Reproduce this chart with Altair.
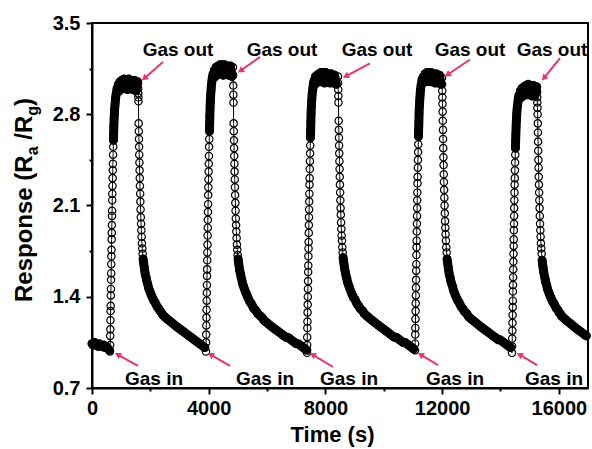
import math
import pandas as pd
import altair as alt

FONT = "Liberation Sans"
PINK = "#E8336D"

# ---------------- axes ----------------
X_MAX = 17000
Y_MIN, Y_MAX = 0.7, 3.5
X_TICKS = [0, 2000, 4000, 6000, 8000, 10000, 12000, 14000, 16000]
Y_TICKS = [0.7, 1.05, 1.4, 1.75, 2.1, 2.45, 2.8, 3.15, 3.5]

# ---------------- data ----------------
T_IN = [617, 3907, 7369, 11071, 14395]      # gas in (s)
T_OUT = [1577, 4833, 8432, 11996, 15252]    # gas out (s)

BASE_T = [0, 40, 80, 120, 160, 200, 240, 280, 320, 360, 400, 440, 480, 520, 560, 600]
BASE_V = [1.04, 1.03, 1.05, 1.03, 1.04, 1.02, 1.04, 1.02, 1.03, 1.02, 1.03, 1.01, 1.02, 1.01, 1.00, 0.99]

RISE_DT = [0, 4, 8, 12, 16, 20, 24, 28, 32, 36, 40, 44, 48, 52, 56, 60, 64, 68, 72, 76,
           80, 85, 90, 95, 100, 106, 112, 118, 125, 132]
RISE_1 = [0.98, 1.03, 1.10, 1.15, 1.22, 1.29, 1.33, 1.41, 1.46, 1.53, 1.58, 1.65, 1.71, 1.76, 1.84,
          1.89, 1.95, 2.02, 2.06, 2.14, 2.19, 2.25, 2.31, 2.37, 2.42, 2.49, 2.55, 2.60, 2.66, 2.71]
RISE_2 = [0.98, 1.05, 1.11, 1.18, 1.24, 1.30, 1.37, 1.43, 1.49, 1.56, 1.61, 1.68, 1.74, 1.80, 1.87,
          1.93, 1.99, 2.05, 2.11, 2.18, 2.24, 2.30, 2.36, 2.42, 2.48, 2.55, 2.61, 2.67, 2.73, 2.79]
RISE_3 = [0.97, 1.03, 1.09, 1.16, 1.21, 1.28, 1.34, 1.40, 1.46, 1.52, 1.59, 1.64, 1.71, 1.77, 1.82,
          1.89, 1.95, 2.01, 2.07, 2.13, 2.19, 2.26, 2.31, 2.38, 2.44, 2.50, 2.56, 2.62, 2.68, 2.74]
RISE_4 = [0.99, 1.04, 1.11, 1.16, 1.23, 1.29, 1.35, 1.41, 1.47, 1.53, 1.60, 1.65, 1.72, 1.78, 1.83,
          1.90, 1.96, 2.02, 2.08, 2.14, 2.20, 2.27, 2.32, 2.39, 2.45, 2.51, 2.57, 2.63, 2.69, 2.74]
RISE_5 = [0.97, 1.02, 1.08, 1.14, 1.20, 1.26, 1.32, 1.37, 1.44, 1.49, 1.55, 1.61, 1.67, 1.73, 1.79,
          1.84, 1.91, 1.96, 2.02, 2.08, 2.14, 2.20, 2.26, 2.31, 2.37, 2.43, 2.49, 2.54, 2.60, 2.65]

PLAT_DT = [140, 150, 162, 175, 190, 206, 224, 244, 266, 290, 316, 344, 374, 406, 440, 476, 514,
           554, 596, 640, 686, 734, 784, 836, 890, 946, 1004]
PLAT_1 = [2.76, 2.80, 2.85, 2.88, 2.92, 2.95, 2.97, 3.00, 2.97, 3.03, 2.98, 3.05, 2.99, 3.06, 3.00,
          3.07, 3.00, 3.06, 2.99, 3.07, 3.00, 3.06, 2.99, 3.06, 2.98, 3.05]
PLAT_2 = [2.85, 2.90, 2.95, 2.99, 3.03, 3.06, 3.09, 3.11, 3.08, 3.14, 3.09, 3.16, 3.10, 3.17, 3.11,
          3.18, 3.11, 3.18, 3.10, 3.18, 3.11, 3.17, 3.10, 3.17, 3.09]
PLAT_3 = [2.81, 2.86, 2.91, 2.95, 2.98, 3.01, 3.04, 3.06, 3.03, 3.09, 3.04, 3.10, 3.05, 3.11, 3.05,
          3.12, 3.05, 3.12, 3.04, 3.12, 3.05, 3.11, 3.04, 3.11, 3.04, 3.10, 3.03]
PLAT_4 = [2.81, 2.86, 2.91, 2.95, 2.99, 3.02, 3.04, 3.07, 3.04, 3.09, 3.05, 3.11, 3.05, 3.12, 3.06,
          3.12, 3.05, 3.12, 3.05, 3.11, 3.04, 3.11, 3.04, 3.10, 3.03]
PLAT_5 = [2.70, 2.75, 2.80, 2.84, 2.87, 2.90, 2.93, 2.95, 2.92, 2.98, 2.93, 3.00, 2.94, 3.01, 2.95,
          3.02, 2.95, 3.03, 2.95, 3.02, 2.94, 3.02, 2.94, 3.01]

# offsets after gas out: drop circles, fast-falling column, slow recovery band
DEC_DT = [0, 4, 8, 12, 16,
          22, 27, 32, 37, 42, 48, 54, 60, 66, 73, 80, 88, 96, 105, 114, 124, 135, 147, 160,
          175, 192, 210, 230, 252, 276, 302, 330, 360, 392, 426, 462, 500, 540, 580, 620, 665,
          710, 755, 800, 850, 900, 950, 1000, 1055, 1110, 1165, 1220, 1275, 1330, 1390, 1450,
          1510, 1570, 1630, 1690, 1750, 1810, 1870, 1930, 1990, 2050, 2110, 2170, 2230, 2290,
          2350, 2410, 2470, 2530, 2590]
DEC_1 = [3.04, 3.00, 2.96, 2.93, 2.90,
         2.73, 2.67, 2.61, 2.55, 2.49, 2.43, 2.37, 2.31, 2.25, 2.19, 2.13, 2.07, 2.01, 1.96, 1.91,
         1.86, 1.81, 1.77, 1.73,
         1.69, 1.66, 1.63, 1.60, 1.57, 1.55, 1.52, 1.50, 1.47, 1.45, 1.43, 1.41, 1.39, 1.37, 1.36,
         1.34, 1.32, 1.31, 1.29, 1.28, 1.26, 1.25, 1.24, 1.23, 1.22, 1.21, 1.20, 1.19, 1.18, 1.17,
         1.16, 1.15, 1.14, 1.13, 1.12, 1.11, 1.10, 1.09, 1.08, 1.07, 1.06, 1.05, 1.04, 1.03, 1.02,
         1.01]
DEC_2 = [3.16, 3.10, 3.02, 2.95, 2.89,
         2.73, 2.67, 2.60, 2.54, 2.48, 2.42, 2.36, 2.30, 2.24, 2.18, 2.12, 2.06, 2.00, 1.95, 1.90,
         1.85, 1.80, 1.76, 1.72,
         1.69, 1.66, 1.63, 1.60, 1.58, 1.55, 1.53, 1.50, 1.48, 1.46, 1.44, 1.42, 1.40, 1.38, 1.36,
         1.35, 1.33, 1.31, 1.30, 1.29, 1.27, 1.26, 1.25, 1.24, 1.22, 1.21, 1.20, 1.19, 1.18, 1.17,
         1.16, 1.15, 1.14, 1.13, 1.12, 1.11, 1.10, 1.09, 1.09, 1.08, 1.07, 1.06, 1.05, 1.04, 1.04,
         1.03, 1.02, 1.01, 1.00, 0.99]
DEC_3 = [3.09, 3.04, 2.99, 2.94, 2.89,
         2.75, 2.68, 2.62, 2.56, 2.50, 2.44, 2.38, 2.32, 2.26, 2.20, 2.14, 2.08, 2.03, 1.97, 1.92,
         1.87, 1.83, 1.78, 1.74,
         1.70, 1.67, 1.64, 1.61, 1.59, 1.56, 1.54, 1.51, 1.49, 1.47, 1.45, 1.43, 1.41, 1.39, 1.38,
         1.36, 1.34, 1.33, 1.31, 1.30, 1.29, 1.27, 1.26, 1.25, 1.24, 1.23, 1.22, 1.21, 1.20, 1.19,
         1.18, 1.17, 1.16, 1.15, 1.14, 1.13, 1.12, 1.11, 1.10, 1.09, 1.09, 1.08, 1.07, 1.06, 1.05,
         1.05, 1.04, 1.03, 1.02, 1.01, 1.00]
DEC_4 = [3.08, 3.03, 2.98, 2.93, 2.88,
         2.82, 2.75, 2.68, 2.61, 2.54, 2.47, 2.41, 2.34, 2.28, 2.22, 2.16, 2.10, 2.04, 1.98, 1.93,
         1.88, 1.83, 1.78, 1.74,
         1.69, 1.66, 1.63, 1.60, 1.57, 1.55, 1.52, 1.50, 1.48, 1.45, 1.43, 1.41, 1.39, 1.37, 1.36,
         1.34, 1.32, 1.31, 1.29, 1.28, 1.27, 1.25, 1.24, 1.23, 1.22, 1.21, 1.20, 1.19, 1.18, 1.17,
         1.16, 1.15, 1.14, 1.13, 1.12, 1.11, 1.10, 1.09, 1.08, 1.07, 1.07, 1.06, 1.05, 1.04, 1.03,
         1.02, 1.01]
DEC_5 = [3.01, 2.97, 2.93, 2.89, 2.85,
         2.80, 2.73, 2.66, 2.59, 2.52, 2.45, 2.39, 2.32, 2.26, 2.20, 2.14, 2.08, 2.02, 1.96, 1.91,
         1.86, 1.81, 1.77, 1.73,
         1.68, 1.65, 1.62, 1.59, 1.56, 1.54, 1.51, 1.49, 1.46, 1.44, 1.42, 1.40, 1.38, 1.36, 1.35,
         1.33, 1.31, 1.30, 1.28, 1.27, 1.25, 1.24, 1.23, 1.22, 1.21, 1.20, 1.19, 1.18, 1.17, 1.16,
         1.15, 1.14, 1.13, 1.12, 1.11, 1.10]

RISE_V = [RISE_1, RISE_2, RISE_3, RISE_4, RISE_5]
PLAT_V = [PLAT_1, PLAT_2, PLAT_3, PLAT_4, PLAT_5]
DEC_V = [DEC_1, DEC_2, DEC_3, DEC_4, DEC_5]

# ---------------- annotations ----------------
OUT_LABEL_T = [2948, 6512, 9768, 12956, 15766]
OUT_LABEL_V = 3.29
OUT_TAIL_T = [2433, 5758, 9528, 12956, 16041]
OUT_TAIL_V = [3.20, 3.24, 3.19, 3.22, 3.23]
OUT_HEAD_T = [1714, 5004, 8603, 12099, 15423]
OUT_HEAD_V = [3.06, 3.12, 3.08, 3.09, 3.06]

IN_LABEL_T = [2125, 5930, 8809, 12442, 15835]
IN_LABEL_V = 0.769
IN_TAIL_T = [1577, 4730, 8260, 11859, 15252]
IN_TAIL_V = [0.869, 0.869, 0.861, 0.876, 0.876]
IN_HEAD_T = [788, 3976, 7472, 11174, 14567]
IN_HEAD_V = [0.968, 0.968, 0.968, 0.968, 0.968]

# ---------------- build tables ----------------
rows = []


def add(t, v, g):
    # g > 0 marks the densely sampled stretches where the markers pile up into a black band
    rows.append({"t": t, "v": v, "i": len(rows), "g": g})


for t, v in zip(BASE_T, BASE_V):
    add(t, v, 1)
for c in range(5):
    n_r = len(RISE_V[c])
    for k, (dt, v) in enumerate(zip(RISE_DT, RISE_V[c])):
        add(T_IN[c] + dt, v, 10 + c if k >= n_r - 3 else 0)
    for dt, v in zip(PLAT_DT, PLAT_V[c]):
        add(T_IN[c] + dt, v, 10 + c)
    for k, (dt, v) in enumerate(zip(DEC_DT, DEC_V[c])):
        add(T_OUT[c] + dt, v, 20 + c if dt >= 175 else 0)
df = pd.DataFrame(rows)

W, H = 496, 365
sx = W / X_MAX
sy = H / (Y_MAX - Y_MIN)

arrows = []
heads = []
for tails_t, tails_v, heads_t, heads_v in [
    (OUT_TAIL_T, OUT_TAIL_V, OUT_HEAD_T, OUT_HEAD_V),
    (IN_TAIL_T, IN_TAIL_V, IN_HEAD_T, IN_HEAD_V),
]:
    for tt, tv, ht, hv in zip(tails_t, tails_v, heads_t, heads_v):
        dxp = (ht - tt) * sx
        dyp = -(hv - tv) * sy
        L = math.hypot(dxp, dyp)
        ux, uy = dxp / L, dyp / L
        ang = math.degrees(math.atan2(ux, -uy)) % 360
        back = 3.0
        cx = ht - back * ux / sx
        cv = hv + back * uy / sy
        arrows.append({"t": tt, "v": tv, "t2": cx, "v2": cv})
        heads.append({"t": cx, "v": cv, "ang": ang})
arr_df = pd.DataFrame(arrows)
head_df = pd.DataFrame(heads)

labels = [{"t": t, "v": OUT_LABEL_V, "s": "Gas out"} for t in OUT_LABEL_T] + \
         [{"t": t, "v": IN_LABEL_V, "s": "Gas in"} for t in IN_LABEL_T]
lab_df = pd.DataFrame(labels)

xs = alt.Scale(domain=[0, X_MAX], nice=False, zero=False)
ys = alt.Scale(domain=[Y_MIN, Y_MAX], nice=False, zero=False)

x_axis = alt.Axis(
    values=X_TICKS,
    labelExpr="datum.value % 4000 === 0 ? format(datum.value, 'd') : ''",
    tickSize={"condition": {"test": "datum.value % 4000 === 0", "value": 6}, "value": 3},
    title="Time (s)", titleFontSize=22, titleX=240, titleY=53,
    titleBaseline="alphabetic", titleAlign="center",
    labelPadding=4, labelFlush=False, labelOverlap=False, grid=False,
)
y_axis = alt.Axis(
    values=Y_TICKS,
    labelExpr="round(datum.value*20) % 14 === 0 ? format(datum.value, '.1f') : ''",
    tickSize={"condition": {"test": "round(datum.value*20) % 14 === 0", "value": 6}, "value": 3},
    title=None, labelPadding=6, labelFlush=False, labelOverlap=False, grid=False,
)

X = alt.X("t:Q", scale=xs, axis=x_axis)
Y = alt.Y("v:Q", scale=ys, axis=y_axis)
Xp = alt.X("t:Q", scale=xs)
Yp = alt.Y("v:Q", scale=ys)

band = alt.Chart(df).transform_filter("datum.g > 0").mark_line(
    color="black", strokeWidth=9, strokeJoin="round", strokeCap="round").encode(
    x=X, y=Y, order="i:Q", detail="g:N")
line = alt.Chart(df).mark_line(color="black", strokeWidth=1).encode(x=Xp, y=Yp, order="i:Q")
pts = alt.Chart(df).mark_point(shape="circle", filled=False, size=54, color="black",
                               strokeWidth=1.2, opacity=1).encode(x=Xp, y=Yp)
arr = alt.Chart(arr_df).mark_rule(color=PINK, strokeWidth=2).encode(
    x=Xp, y=Yp, x2="t2:Q", y2="v2:Q")
hd = alt.Chart(head_df).mark_point(shape="triangle-up", filled=True, size=50, color=PINK,
                                   opacity=1).encode(
    x=Xp, y=Yp, angle=alt.Angle("ang:Q", scale=None))
txt = alt.Chart(lab_df).mark_text(font=FONT, fontWeight="bold", fontSize=19, color="black",
                                  align="center", baseline="middle").encode(
    x=Xp, y=Yp, text="s:N")

# y-axis title with subscripts, built from text pieces (no leading spaces: SVG drops them)
AW = {"R": 722, "e": 556, "s": 556, "p": 611, "o": 611, "n": 611, " ": 278, "(": 333,
      ")": 333, "/": 278, "a": 556, "g": 611}
# (text, font size, baseline shift, gap before in px)
pieces = [("Response (R", 24, 0, 0), ("a", 16, 6, 0), ("/R", 24, 0, 6.7), ("g", 16, 6, 0),
          (")", 24, 0, 0)]
one = pd.DataFrame({"k": [0]})
ytitle = []
cur = 279
for s, fs, shift, gap in pieces:
    cur -= gap
    ytitle.append(
        alt.Chart(one).mark_text(font=FONT, fontWeight="bold", fontSize=fs, color="black",
                                 angle=270, align="left", baseline="alphabetic", text=s).encode(
            x=alt.value(-60 + shift), y=alt.value(cur)))
    cur -= sum(AW[ch] for ch in s) * fs / 1000

chart = alt.layer(band, line, pts, arr, hd, txt, *ytitle).properties(
    width=W, height=H,
    padding={"left": 92, "top": 23, "right": 4, "bottom": 61},
    autosize=alt.AutoSizeParams(type="none"),
    background="white",
).configure_axis(
    domainColor="black", domainWidth=2, tickColor="black", tickWidth=2,
    labelFont=FONT, labelFontSize=20, labelFontWeight="bold", labelColor="black",
    titleFont=FONT, titleFontWeight="bold", titleColor="black",
).configure_view(stroke="black", strokeWidth=2)

chart.save("out.html", embed_options={"renderer": "svg", "actions": False})
